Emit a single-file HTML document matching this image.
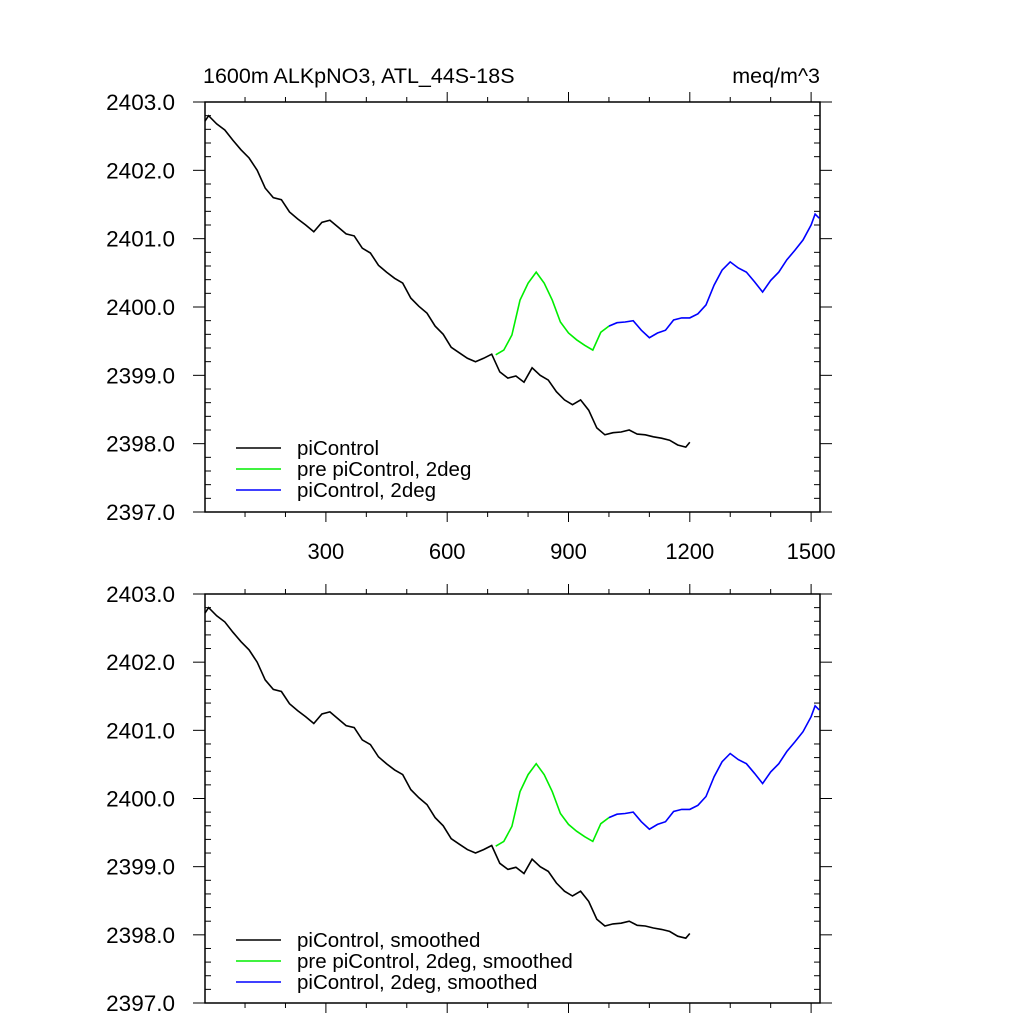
<!DOCTYPE html>
<html><head><meta charset="utf-8"><style>
body{margin:0;background:#fff;}
svg text{font-family:"Liberation Sans",sans-serif;fill:#000;}
</style></head><body>
<svg id="chart" width="1024" height="1024" xmlns="http://www.w3.org/2000/svg"></svg>
<script>
const blackYears=[1,10,30,50,70,90,110,130,150,170,190,210,230,250,270,290,310,330,350,370,390,410,430,450,470,490,510,530,550,570,590,610,630,650,670,690,710,730,750,770,790,810,830,850,870,890,910,930,950,970,990,1010,1030,1050,1070,1090,1110,1130,1150,1170,1190,1200];
const blackVals=[2402.72,2402.80,2402.68,2402.59,2402.44,2402.30,2402.18,2402.00,2401.74,2401.60,2401.57,2401.39,2401.29,2401.20,2401.10,2401.24,2401.27,2401.17,2401.07,2401.04,2400.86,2400.79,2400.61,2400.51,2400.42,2400.35,2400.13,2400.01,2399.91,2399.72,2399.60,2399.41,2399.33,2399.25,2399.20,2399.25,2399.31,2399.05,2398.96,2398.99,2398.90,2399.11,2399.00,2398.93,2398.76,2398.64,2398.57,2398.64,2398.49,2398.23,2398.13,2398.16,2398.17,2398.20,2398.14,2398.13,2398.10,2398.08,2398.05,2397.98,2397.95,2398.02];
const greenYears=[720,740,760,780,800,820,840,860,880,900,920,940,960,980,1000];
const greenVals=[2399.30,2399.37,2399.59,2400.10,2400.35,2400.51,2400.35,2400.10,2399.78,2399.62,2399.52,2399.44,2399.37,2399.63,2399.72];
const blueYears=[1000,1020,1040,1060,1080,1100,1120,1140,1160,1180,1200,1220,1240,1260,1280,1300,1320,1340,1360,1380,1400,1420,1440,1460,1480,1500,1510,1520];
const blueVals=[2399.72,2399.77,2399.78,2399.80,2399.66,2399.55,2399.62,2399.66,2399.81,2399.84,2399.84,2399.90,2400.03,2400.32,2400.54,2400.66,2400.57,2400.51,2400.37,2400.22,2400.39,2400.51,2400.69,2400.83,2400.98,2401.20,2401.36,2401.30];
const yTicks=[2397,2398,2399,2400,2401,2402,2403];
const xTicks=[300,600,900,1200,1500];
const legendTop=["piControl","pre piControl, 2deg","piControl, 2deg"];
const legendBottom=["piControl, smoothed","pre piControl, 2deg, smoothed","piControl, 2deg, smoothed"];

const svg=document.getElementById('chart');
const NS="http://www.w3.org/2000/svg";
const L=205,R=820,X0=1,X1=1522;
function sx(v){return L+(v-X0)/(X1-X0)*(R-L);}
function mk(tag,at,parent){const e=document.createElementNS(NS,tag);for(const k in at)e.setAttribute(k,at[k]);(parent||svg).appendChild(e);return e;}

function panel(top,bottom,showX,legend,legY,name){
  const g=mk('g',{});
  
  
  const sy=v=>bottom-(v-2397)/6*(bottom-top);
  const fr=mk('rect',{x:L,y:top,width:R-L,height:bottom-top,fill:'none',stroke:'#000','stroke-width':1.5},g);
  
  
  for(let v=100;v<=1500;v+=100){
    const x=sx(v),maj=v%300===0,len=maj?10:5;
    mk('line',{x1:x,x2:x,y1:top,y2:top-len,stroke:'#000','stroke-width':1},g);
    mk('line',{x1:x,x2:x,y1:bottom,y2:bottom+len,stroke:'#000','stroke-width':1},g);
  }
  for(let i=0;i<=30;i++){
    const v=2397+i*0.2,y=sy(v),maj=i%5===0;
    if(maj){
      mk('line',{x1:L,x2:L-12,y1:y,y2:y,stroke:'#000'},g);
      mk('line',{x1:R,x2:R+12,y1:y,y2:y,stroke:'#000'},g);
    }else{
      mk('line',{x1:L,x2:L+6,y1:y,y2:y,stroke:'#000'},g);
      mk('line',{x1:R,x2:R-6,y1:y,y2:y,stroke:'#000'},g);
    }
  }
  yTicks.forEach(v=>{
    const t=mk('text',{x:175,y:sy(v)+8,'text-anchor':'end','font-size':22.5},g);
    t.textContent=v.toFixed(1);
    
    
  });
  if(showX){xTicks.forEach(v=>{
    const t=mk('text',{x:sx(v),y:bottom+47,'text-anchor':'middle','font-size':22},g);
    t.textContent=v;
    
    
  });}
  const series=[[blackYears,blackVals,'#000','black-series'],[greenYears,greenVals,'#00ee00','green-series'],[blueYears,blueVals,'#0000ff','blue-series']];
  series.forEach(([xs,ys,c,n])=>{
    const p=mk('path',{d:xs.map((x,i)=>(i?'L':'M')+sx(x).toFixed(1)+','+sy(ys[i]).toFixed(1)).join(''),fill:'none',stroke:c,'stroke-width':1.6},g);
    
    
  });
  legend.forEach((lab,i)=>{
    const y=legY+i*21;
    const ln=mk('line',{x1:236,x2:281,y1:y,y2:y,stroke:series[i][2],'stroke-width':1.6},g);
    
    
    const t=mk('text',{x:297,y:y+7,'font-size':20.5},g);
    t.textContent=lab;
    
    
  });
}
const t1=mk('text',{x:203,y:83,'font-size':21.5});t1.textContent="1600m ALKpNO3, ATL_44S-18S";


const t2=mk('text',{x:820,y:83,'font-size':21.5,'text-anchor':'end'});t2.textContent="meq/m^3";


panel(102,512,true,legendTop,448,'top-panel');
panel(594,1003,false,legendBottom,940,'bottom-panel');
</script>
</body></html>
